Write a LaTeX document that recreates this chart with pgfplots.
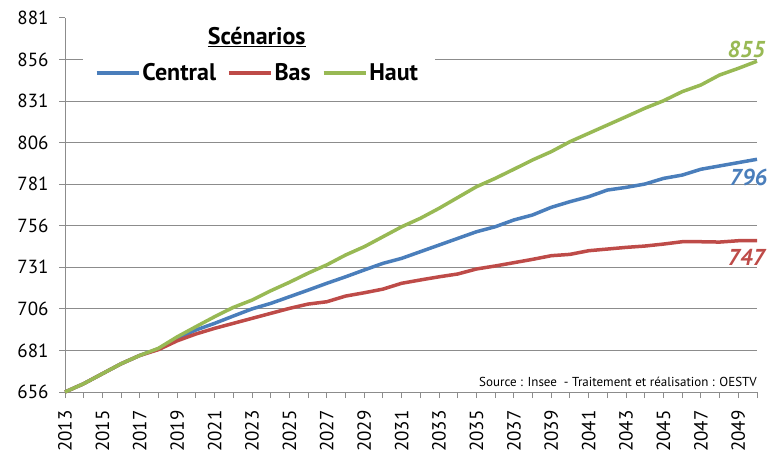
\documentclass[border=0pt]{standalone}
\usepackage{pgfplots}
\pgfplotsset{compat=1.18}
\usepackage{fontspec}
\setmainfont{PT Sans}
\definecolor{cblue}{HTML}{4A7EBB}
\definecolor{cred}{HTML}{BE4B48}
\definecolor{cgreen}{HTML}{98B954}
\definecolor{cgrid}{HTML}{8C8C8C}
\pgfplotstableread{
year central bas haut
2013 656 656 656
2014 661 661 661
2015 667 667 667
2016 673 673 673
2017 678 678 678
2018 682 681.5 682.3
2019 688.3 686.8 689.2
2020 693.3 690.9 695.3
2021 697.3 694.3 701.3
2022 701.7 697.3 706.9
2023 706 700.3 711.3
2024 709.3 703.3 716.9
2025 713.3 706.3 722
2026 717.3 708.9 727.5
2027 721.4 710.3 732.5
2028 725.3 713.7 738.4
2029 729.4 715.7 743.4
2030 733.4 717.9 749.4
2031 736.4 721.4 755.4
2032 740.4 723.4 760.5
2033 744.4 725.3 766.5
2034 748.4 727 773
2035 752.4 730 779.5
2036 755.4 731.8 784.5
2037 759.5 733.8 790
2038 762.5 735.8 795.6
2039 767.1 738 800.6
2040 770.5 738.8 806.6
2041 773.5 741 811.6
2042 777.5 742 816.6
2043 779.1 743 821.6
2044 781.1 743.8 826.7
2045 784.5 745 831.2
2046 786.5 746.4 836.7
2047 790 746.4 840.7
2048 792 746.2 846.7
2049 794 747 850.7
2050 796 747 855
}\datatable
\begin{document}
\begin{tikzpicture}
\useasboundingbox (0,0) rectangle (780pt,453pt);
\begin{axis}[
  at={(65pt,61pt)}, anchor=south west,
  scale only axis, width=692pt, height=374pt,
  xmin=2013, xmax=2050, ymin=656, ymax=881,
  axis x line*=bottom, axis y line*=left,
  axis line style={cgrid, line width=1pt},
  ytick={656,681,...,856},
  extra y ticks={881},
  extra y tick style={grid=none},
  ymajorgrids,
  major grid style={cgrid, line width=1pt},
  xtick={2013,2015,...,2049},
  minor xtick={2014,2016,...,2050},
  xticklabels={2013,2015,2017,2019,2021,2023,2025,2027,2029,2031,2033,2035,2037,2039,2041,2043,2045,2047,2049},
  tick align=outside,
  major tick length=6pt, minor tick length=6pt,
  every tick/.style={cgrid, line width=1pt},
  xticklabel style={yshift=-9pt, rotate=90, anchor=east, font=\fontsize{19}{19}\selectfont},
  yticklabel style={xshift=-7pt, font=\fontsize{19}{19}\selectfont},
  /pgf/number format/assume math mode=true,
  clip=false,
  legend columns=3,
  legend style={at={(axis description cs:0.043,0.853)}, anchor=west, draw=none, fill=none,
    font=\fontsize{24}{24}\selectfont\bfseries, inner sep=0pt,
    /tikz/every even column/.append style={column sep=9pt}},
  legend cell align=left,
  legend image code/.code={\draw[#1,line width=3.5pt] (0pt,0pt) -- (42pt,0pt);},
]
\fill[white] (axis cs:2013.96,834.7) rectangle (axis cs:2032.8,878);
\addplot[cblue, line width=3.5pt, line join=round] table[x=year,y=central] {\datatable};
\addlegendentry{Central}
\addplot[cred, line width=3.5pt, line join=round] table[x=year,y=bas] {\datatable};
\addlegendentry{Bas}
\addplot[cgreen, line width=3.5pt, line join=round] table[x=year,y=haut] {\datatable};
\addlegendentry{Haut}
\node[font=\fontsize{24}{24}\selectfont\bfseries] at (axis description cs:0.277,0.949) {\underline{Scénarios}};
\node[anchor=base east, text=cgreen, font=\fontsize{23}{23}\selectfont\bfseries\itshape, inner sep=0pt] at (axis cs:2050.45,857) {855};
\node[anchor=base east, text=cblue, font=\fontsize{23}{23}\selectfont\bfseries\itshape, inner sep=0pt] at (axis cs:2050.55,780.5) {796};
\node[anchor=base east, text=cred, font=\fontsize{23}{23}\selectfont\bfseries\itshape, inner sep=0pt] at (axis cs:2050.45,732.4) {747};
\node[anchor=base east, font=\fontsize{13}{13}\selectfont, inner sep=0pt] at (axis cs:2050,659.6) {Source : Insee\ \ - Traitement et réalisation : OESTV};
\end{axis}
\end{tikzpicture}
\end{document}
